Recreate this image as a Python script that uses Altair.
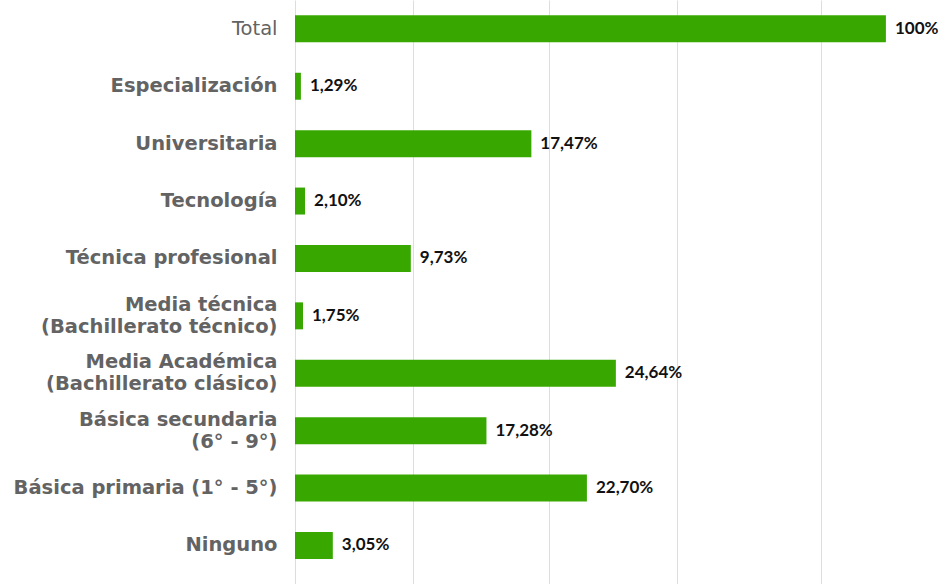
import altair as alt
import pandas as pd

categories = [
    "Total",
    "Especialización",
    "Universitaria",
    "Tecnología",
    "Técnica profesional",
    "Media técnica|(Bachillerato técnico)",
    "Media Académica|(Bachillerato clásico)",
    "Básica secundaria|(6° - 9°)",
    "Básica primaria (1° - 5°)",
    "Ninguno",
]
# bar lengths as drawn (relative to Total = 100)
bar_values = [100, 1.0, 40.0, 1.7, 19.6, 1.35, 54.3, 32.4, 49.4, 6.4]
# printed labels
value_labels = ["100%", "1,29%", "17,47%", "2,10%", "9,73%", "1,75%",
                "24,64%", "17,28%", "22,70%", "3,05%"]
grid_values = [0, 20, 43, 64.6, 89]

df = pd.DataFrame({"cat": categories, "val": bar_values, "lab": value_labels})

y_enc = alt.Y(
    "cat:N",
    sort=categories,
    scale=alt.Scale(paddingInner=0.53, paddingOuter=0.352, align=0.38),
    axis=alt.Axis(
        title=None,
        labelExpr="split(datum.label, '|')",
        labelFont="DejaVu Sans",
        labelFontSize=19.5,
        labelFontWeight={"condition": {"test": "datum.label == 'Total'", "value": "normal"}, "value": "bold"},
        labelOffset={"condition": {"test": "indexof(datum.label, '|') >= 0", "value": -11}, "value": 0},
        labelColor="#636363",
        labelPadding=18,
        labelLineHeight=22,
        ticks=False,
        domain=False,
        grid=False,
        labelLimit=400,
    ),
)

x_enc = alt.X(
    "val:Q",
    scale=alt.Scale(domain=[0, 110], nice=False),
    axis=alt.Axis(
        title=None,
        labels=False,
        ticks=False,
        domain=False,
        grid=True,
        gridColor="#dddddd",
        gridWidth=1,
        values=grid_values,
    ),
)

bars = alt.Chart(df).mark_bar(color="#38A800").encode(y=y_enc, x=x_enc)

text = alt.Chart(df).mark_text(
    align="left", baseline="middle", dx=9,
    font="Lato", fontSize=17, fontWeight="bold", color="#111111"
).encode(y=alt.Y("cat:N", sort=categories), x=alt.X("val:Q"), text="lab:N")

chart = (
    alt.layer(bars, text)
    .properties(
        width=650,
        height=584,
        autosize=alt.AutoSizeParams(type="none"),
        padding={"left": 295, "top": 0, "right": 0, "bottom": 0},
    )
    .configure_view(stroke=None)
)

chart.save("out.html", embed_options={"renderer": "svg", "actions": False})
